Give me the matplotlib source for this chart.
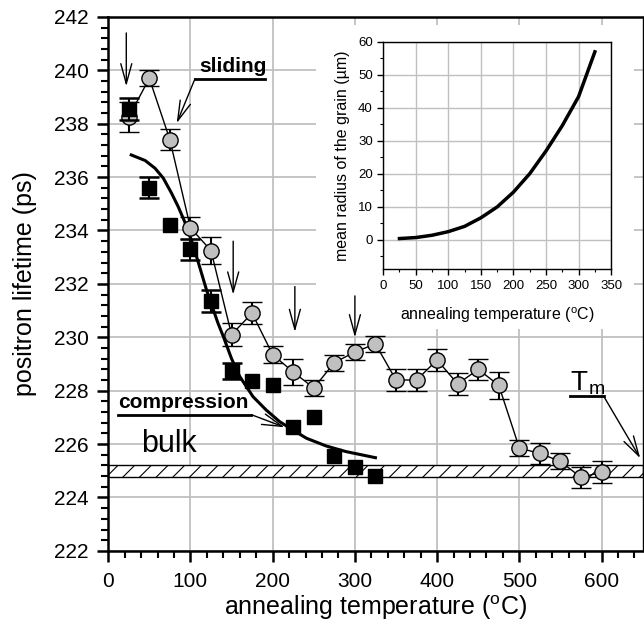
"""Positron lifetime vs annealing temperature, with grain radius inset."""

import numpy as np
import matplotlib
matplotlib.use('Agg')
import matplotlib.pyplot as plt
from matplotlib.ticker import MultipleLocator
from matplotlib.patches import Rectangle

plt.rcParams['font.family'] = 'Liberation Sans'
plt.rcParams['mathtext.fontset'] = 'custom'
plt.rcParams['mathtext.rm'] = 'Liberation Sans'
plt.rcParams['hatch.linewidth'] = 0.8

# sliding (grey circles)
T_slide = [25, 50, 75, 100, 125, 150, 175, 200, 225, 250, 275, 300,
           325, 350, 375, 400, 425, 450, 475, 500, 525, 550, 575, 600]
tau_slide = [238.25, 239.7, 237.4, 234.1, 233.25, 230.1, 230.9, 229.35,
             228.7, 228.1, 229.05, 229.45, 229.75, 228.4, 228.4, 229.15,
             228.25, 228.8, 228.2, 225.85, 225.65, 225.35, 224.75, 224.95]
err_slide = [0.55, 0.3, 0.4, 0.4, 0.5, 0.42, 0.42, 0.32, 0.5, 0.3, 0.3,
             0.3, 0.3, 0.4, 0.42, 0.4, 0.4, 0.4, 0.5, 0.3, 0.4, 0.3, 0.4, 0.4]

# compression (black squares)
T_comp = [25, 50, 75, 100, 125, 150, 175, 200, 225, 250, 275, 300, 325]
tau_comp = [238.55, 235.6, 234.2, 233.3, 231.35, 228.75, 228.35, 228.2,
            226.65, 227.0, 225.55, 225.15, 224.8]
err_comp = [0.4, 0.4, 0.0, 0.4, 0.42, 0.3, 0.0, 0.0, 0.0, 0.0, 0.0, 0.0, 0.0]

# model curve
T_fit = [28, 45, 57, 67, 77, 85, 93, 101, 107.5, 113.5, 119.5, 126.5,
         133.5, 140, 150, 160, 176, 192, 208.5, 224.5, 241, 265, 289, 325]
tau_fit = [236.83, 236.62, 236.33, 235.96, 235.4, 234.9, 234.33, 233.65,
           233.02, 232.4, 231.78, 231.15, 230.53, 230.03, 229.2, 228.53,
           227.78, 227.28, 226.84, 226.53, 226.22, 225.93, 225.72, 225.49]

# bulk lifetime band
bulk_lo, bulk_hi = 224.77, 225.22

# inset: mean grain radius
T_grain = [25, 50, 75, 100, 125, 150, 175, 200, 225, 250, 275, 300, 325]
r_grain = [0.3, 0.6, 1.3, 2.4, 4.0, 6.6, 9.9, 14.4, 20.0, 26.9, 34.6,
           43.4, 57.0]

fig = plt.figure(figsize=(6.44, 6.26), dpi=100)
ax = fig.add_axes([0.168, 0.12, 0.830, 0.853])
ax.set_xlim(0, 650)
ax.set_ylim(222, 242)
ax.xaxis.set_major_locator(MultipleLocator(100))
ax.xaxis.set_minor_locator(MultipleLocator(20))
ax.yaxis.set_major_locator(MultipleLocator(2))
ax.yaxis.set_minor_locator(MultipleLocator(0.4))
ax.tick_params(which='major', direction='out', length=8, width=1.8,
               labelsize=15)
ax.tick_params(which='minor', direction='out', length=5, width=1.5)
ax.tick_params(axis='x', pad=7)
ax.tick_params(axis='y', pad=6)
for s in ['left', 'bottom', 'top']:
    ax.spines[s].set_linewidth(1.8)
ax.spines['right'].set_linewidth(1.0)
ax.grid(True, color='#c0c0c0', lw=1.3)
ax.set_axisbelow(True)
ax.set_xlabel(r'annealing temperature ($^{\rm o}$C)', fontsize=18,
              labelpad=2)
ax.set_ylabel('positron lifetime (ps)', fontsize=18, labelpad=12)

ax.fill_between([0, 650], bulk_lo, bulk_hi, facecolor='white',
                edgecolor='black', hatch='//', lw=1.0, zorder=1.5)

ax.plot(T_fit, tau_fit, color='k', lw=2.2, zorder=3)

ax.errorbar(T_slide, tau_slide, yerr=err_slide, fmt='o-', color='k',
            mfc='#c0c0c0', mec='k', mew=1.0, ms=11, lw=1.0,
            elinewidth=1.5, capsize=7, capthick=1.8, zorder=4)

T_c = np.array(T_comp)
tau_c = np.array(tau_comp)
e_c = np.array(err_comp)
has = e_c > 0
ax.errorbar(T_c[has], tau_c[has], yerr=e_c[has], fmt='none', ecolor='k',
            elinewidth=1.5, capsize=7, capthick=1.8, zorder=5)
ax.plot(T_c, tau_c, 's', color='k', ms=9.5, zorder=6)

# white box behind the inset
ax.add_patch(Rectangle((253, 230.3), 386, 11.4, facecolor='white',
                       edgecolor='none', zorder=2))

head = '->,head_length=1.2,head_width=0.33'


def arrow(x0, y0, x1, y1):
    ax.annotate('', xy=(x1, y1), xytext=(x0, y0),
                arrowprops=dict(arrowstyle=head, lw=1.0, color='k',
                                shrinkA=0, shrinkB=0, mutation_scale=12),
                zorder=7)


# vertical markers
arrow(22, 241.4, 22, 239.4)
arrow(152, 233.6, 152, 231.6)
arrow(227, 231.9, 227, 230.2)
arrow(300, 231.55, 300, 230.0)

# sliding label
ax.text(111, 239.92, 'sliding', fontsize=15, fontweight='bold',
        ha='left', va='baseline', zorder=7)
ax.plot([105.5, 191], [239.68, 239.68], color='k', lw=2, zorder=7)
arrow(105.5, 239.68, 83.3, 238.02)

# compression label
ax.text(12, 227.36, 'compression', fontsize=15, fontweight='bold',
        ha='left', va='baseline', zorder=7)
ax.plot([12.5, 174.2], [227.1, 227.1], color='k', lw=2, zorder=7)
arrow(174.2, 227.1, 214.5, 226.63)

ax.text(40.5, 225.71, 'bulk', fontsize=22, ha='left', va='baseline',
        zorder=7)

# melting temperature
ax.text(562, 228.03, 'T', fontsize=20, ha='left', va='baseline', zorder=7)
ax.text(584, 227.86, 'm', fontsize=14, ha='left', va='baseline', zorder=7)
ax.plot([562, 602.4], [227.8, 227.8], color='k', lw=2, zorder=7)
arrow(602.4, 227.8, 647, 225.47)

# inset
ins = fig.add_axes([0.595, 0.570, 0.354, 0.363])
ins.plot(T_grain, r_grain, color='k', lw=2.5)
ins.set_xlim(0, 350)
ins.set_ylim(-9, 60)
ins.xaxis.set_major_locator(MultipleLocator(50))
ins.xaxis.set_minor_locator(MultipleLocator(25))
ins.yaxis.set_major_locator(MultipleLocator(10))
ins.yaxis.set_minor_locator(MultipleLocator(5))
ins.tick_params(which='major', direction='out', length=4, width=1.0,
                labelsize=9.5)
ins.tick_params(which='minor', direction='out', length=2.5, width=0.8)
ins.grid(True, color='#c0c0c0', lw=1.0)
ins.set_axisbelow(True)
for s in ins.spines.values():
    s.set_linewidth(1.0)
ins.set_xlabel(r'annealing temperature ($^{\rm o}$C)', fontsize=11.5,
               labelpad=10)
ins.set_ylabel('mean radius of the grain (\u00b5m)', fontsize=11.5,
               labelpad=6)

fig.savefig('out.png', dpi=100)
